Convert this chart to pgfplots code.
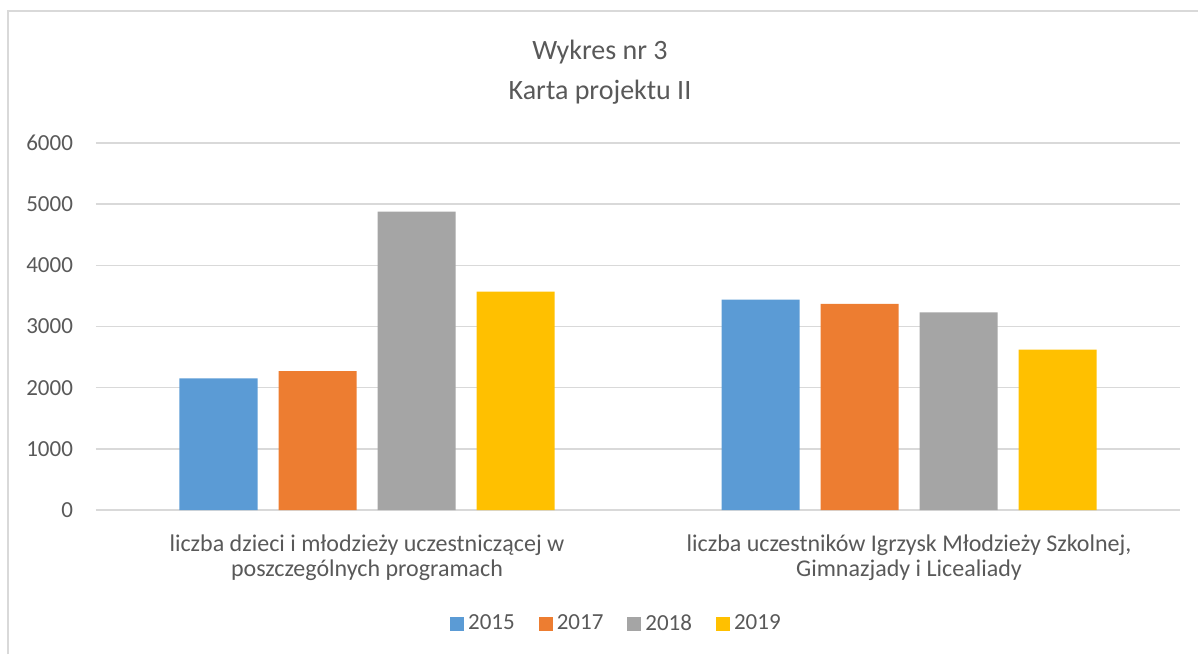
\documentclass[border=0pt]{standalone}
\usepackage{fontspec}
\setmainfont{Carlito}
\usepackage{pgfplots}
\pgfplotsset{compat=1.18}

\definecolor{c2015}{HTML}{5B9BD5}
\definecolor{c2017}{HTML}{ED7D31}
\definecolor{c2018}{HTML}{A5A5A5}
\definecolor{c2019}{HTML}{FFC000}
\definecolor{txt}{HTML}{595959}
\definecolor{gridc}{HTML}{D9D9D9}

\begin{document}
\begin{tikzpicture}
\useasboundingbox (-48pt,-72pt) rectangle (551pt,255pt);
\draw[gridc, line width=0.8pt] (-44pt,-72pt) -- (-44pt,249.5pt) -- (551pt,249.5pt);

\begin{axis}[%
width=542pt,
height=183.5pt,
at={(0,0)},
anchor=south west,
scale only axis,
ybar=10.5pt,
bar width=39pt,
xmin=-0.5,
xmax=1.5,
ymin=0,
ymax=6000,
xtick={0,1},
xticklabels={{liczba dzieci i młodzieży uczestniczącej w\\poszczególnych programach},
             {liczba uczestników Igrzysk Młodzieży Szkolnej,\\Gimnazjady i Licealiady}},
xticklabel style={align=center, font=\fontsize{12}{12.5}\selectfont, text=txt, yshift=-9pt},
ytick={0,1000,...,6000},
yticklabel style={font=\fontsize{11.5}{13}\selectfont, text=txt, xshift=-8pt},
/pgf/number format/assume math mode=true,
scaled y ticks=false,
yticklabel={\pgfmathprintnumber[fixed,1000 sep={}]{\tick}},
major tick length=0pt,
axis line style={draw=none},
ymajorgrids,
grid style={gridc, line width=0.75pt},
legend style={at={(0.481,-0.31)}, anchor=center, draw=none, fill=none,
  legend columns=4, font=\fontsize{11.5}{13}\selectfont, text=txt,
  /tikz/every even column/.append style={column sep=10pt}},
legend image code/.code={\fill[#1] (0pt,-3.5pt) rectangle (7pt,3.5pt);},
]
\addplot[fill=c2015, draw=none] coordinates {(0,2150) (1,3440)};
\addlegendentry{2015}
\addplot[fill=c2017, draw=none] coordinates {(0,2270) (1,3370)};
\addlegendentry{2017}
\addplot[fill=c2018, draw=none] coordinates {(0,4880) (1,3230)};
\addlegendentry{2018}
\addplot[fill=c2019, draw=none] coordinates {(0,3570) (1,2620)};
\addlegendentry{2019}
\end{axis}

\node[text=txt, font=\fontsize{14}{15}\selectfont] at (252pt,229pt) {Wykres nr 3};
\node[text=txt, font=\fontsize{14}{15}\selectfont] at (252pt,209pt) {Karta projektu II};
\end{tikzpicture}
\end{document}
